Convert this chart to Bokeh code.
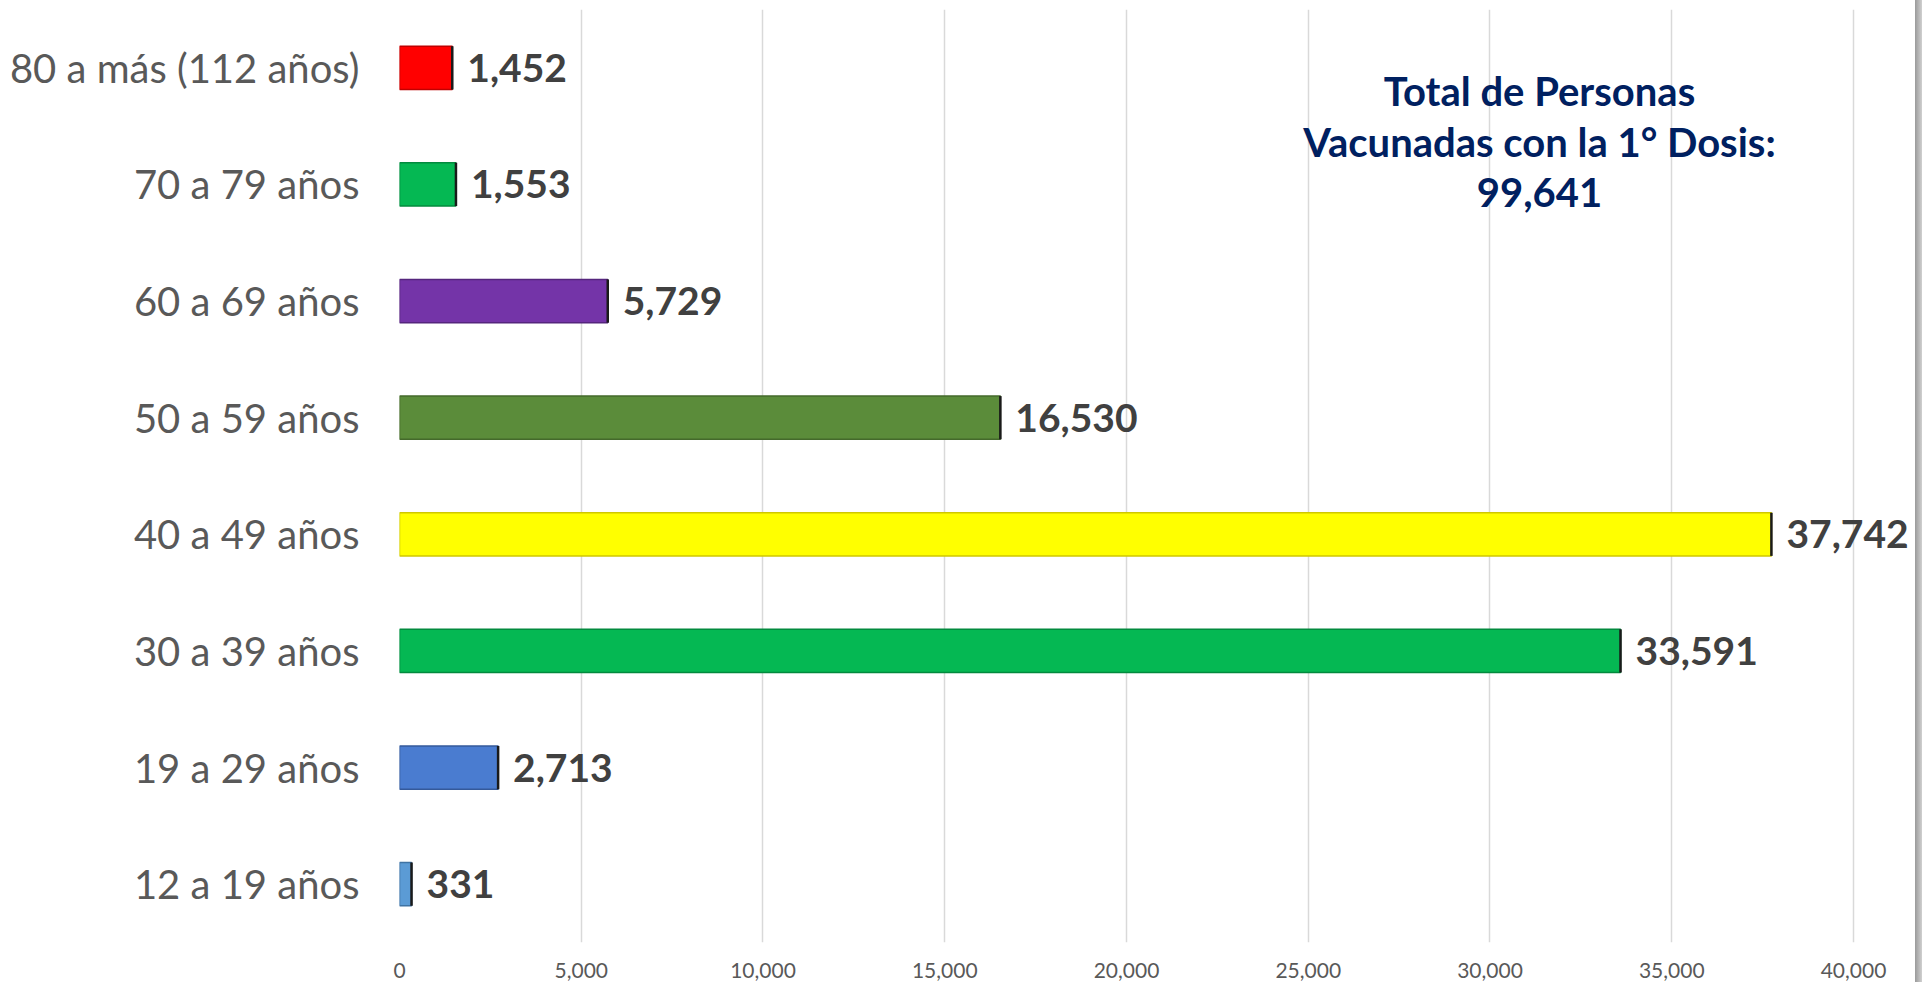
from bokeh.plotting import figure
from bokeh.models import ColumnDataSource, FactorRange, Range1d, FixedTicker, NumeralTickFormatter, Label, Div
from bokeh.layouts import row
from bokeh.transform import dodge
from bokeh.core.properties import value
from bokeh.embed import file_html
from bokeh.resources import INLINE

# ---- data ----
categories = ["80 a más (112 años)", "70 a 79 años", "60 a 69 años", "50 a 59 años",
              "40 a 49 años", "30 a 39 años", "19 a 29 años", "12 a 19 años"]
vacunados = [1452, 1553, 5729, 16530, 37742, 33591, 2713, 331]
bar_colors = ["#FF0000", "#05B853", "#7434A8", "#5B8C3A",
              "#FFFF00", "#05B853", "#4A7CD0", "#5B9BD5"]
border_colors = ["#C00000", "#038A3E", "#55257D", "#44692B",
                 "#CFC800", "#038A3E", "#34599A", "#3F73A3"]
x_ticks = [0, 5000, 10000, 15000, 20000, 25000, 30000, 35000, 40000]
title_lines = ["Total de Personas", "Vacunadas con la 1° Dosis:", "99,641"]

FONT = "Lato"
BAR_H = 0.37

src = ColumnDataSource(dict(
    cat=categories,
    v=vacunados,
    fill=bar_colors,
    line=border_colors,
    lbl=[f"{x:,}" for x in vacunados],
))

p = figure(
    width=1915, height=982,
    y_range=FactorRange(*list(reversed(categories))),
    x_range=Range1d(0, 41706),
    output_backend="svg", toolbar_location=None,
    min_border_left=399, min_border_right=0, min_border_top=9, min_border_bottom=40,
)
p.outline_line_color = None
p.background_fill_color = "white"
p.border_fill_color = "white"

# grid
p.ygrid.grid_line_color = None
p.xgrid.grid_line_color = "#D9D9D9"
p.xgrid.grid_line_width = 1.5
p.xaxis.ticker = FixedTicker(ticks=x_ticks)

# bars
p.hbar(y="cat", right="v", left=0, height=BAR_H, source=src,
       fill_color="fill", line_color="line", line_width=1.5)
# dark bevel edge on right end
p.segment(x0="v", x1="v",
          y0=dodge("cat", -BAR_H / 2, range=p.y_range),
          y1=dodge("cat", BAR_H / 2, range=p.y_range),
          source=src, line_color="#1A1A1A", line_width=2.5)

# value labels
p.text(x="v", y="cat", text="lbl", source=src, x_offset=15,
       text_align="left", text_baseline="middle",
       text_font=value(FONT), text_font_style="bold",
       text_font_size="39px", text_color="#404040")

# axes
p.xaxis.formatter = NumeralTickFormatter(format="0,0")
p.xaxis.axis_line_color = None
p.xaxis.major_tick_line_color = None
p.xaxis.minor_tick_line_color = None
p.xaxis.major_tick_out = 0
p.xaxis.major_label_standoff = 20
p.xaxis.major_label_text_font = FONT
p.xaxis.major_label_text_font_size = "21px"
p.xaxis.major_label_text_color = "#595959"

p.yaxis.axis_line_color = None
p.yaxis.major_tick_line_color = None
p.yaxis.minor_tick_line_color = None
p.yaxis.major_tick_out = 0
p.yaxis.major_label_standoff = 40
p.yaxis.major_label_text_font = FONT
p.yaxis.major_label_text_font_size = "40px"
p.yaxis.major_label_text_color = "#595959"

# annotation (total)
for i, t in enumerate(title_lines):
    p.add_layout(Label(x=1140, y=852 - i * 51, x_units="screen", y_units="screen",
                       text=t, text_align="center", text_baseline="middle",
                       text_font=FONT, text_font_style="bold",
                       text_font_size="40px", text_color="#002060"))

strip = Div(text="&nbsp;", width=7, height=982, margin=0,
            styles={"background-color": "#B4B4B4",
                    "background-image": "linear-gradient(to right, #9A9A9A, #D0D0D0)",
                    "width": "7px", "height": "982px"})

layout = row(p, strip, spacing=0)
open("out.html", "w").write(file_html(layout, INLINE))
